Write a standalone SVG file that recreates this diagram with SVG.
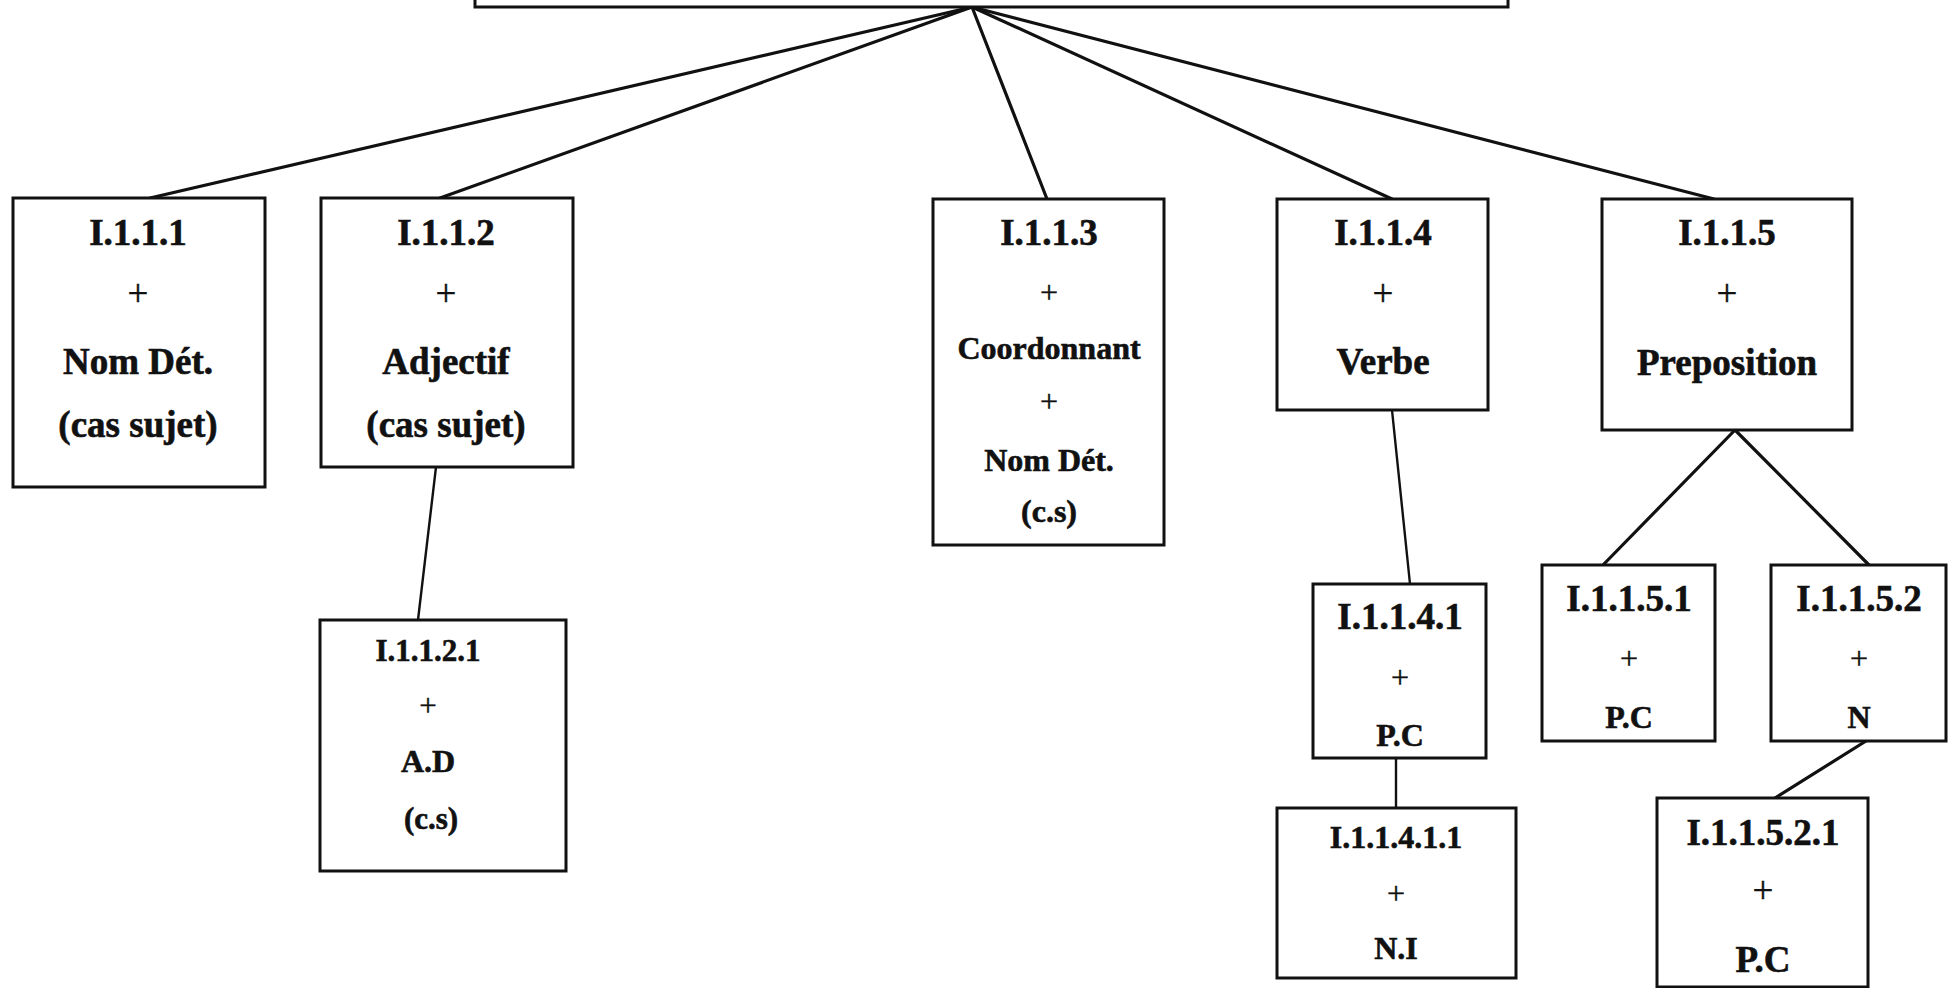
<svg xmlns="http://www.w3.org/2000/svg" width="1948" height="988" viewBox="0 0 1948 988">
  <style>
    .box { fill: #ffffff; stroke: #111111; stroke-width: 3; }
    .link { stroke: #111111; stroke-width: 3.2; fill: none; stroke-linecap: round; }
    .thin { stroke-width: 2.4; }
    text { font-family: "Liberation Serif", "Times New Roman", serif; fill: #111111; text-anchor: middle; }
    .b { font-weight: bold; stroke: #111111; stroke-width: 0.6; }
    .p { font-weight: normal; stroke: #111111; stroke-width: 0.4; }
    .l { font-size: 37px; }
    .m { font-size: 32px; }
    .s { font-size: 31px; }
  </style>
  <rect width="1948" height="988" fill="#ffffff"/>

  <!-- tree edges -->
  <g id="connectors">
    <line class="link" x1="972" y1="7" x2="150" y2="198"/>
    <line class="link" x1="972" y1="7" x2="440" y2="198"/>
    <line class="link" x1="972" y1="7" x2="1047" y2="199"/>
    <line class="link" x1="972" y1="7" x2="1392" y2="199"/>
    <line class="link" x1="972" y1="7" x2="1714" y2="199"/>
    <line class="link thin" x1="436" y1="467" x2="418" y2="620"/>
    <line class="link thin" x1="1392" y1="410" x2="1410" y2="584"/>
    <line class="link thin" x1="1396" y1="758" x2="1396" y2="808"/>
    <line class="link" x1="1735" y1="430" x2="1603" y2="565"/>
    <line class="link" x1="1735" y1="430" x2="1869" y2="565"/>
    <line class="link" x1="1866" y1="741" x2="1775" y2="798"/>
  </g>

  <!-- root box, cut by the top edge -->
  <g id="root">
    <rect class="box" x="475" y="-20" width="1033" height="27"/>
  </g>

  <g id="n1111">
    <rect class="box" x="13" y="198" width="252" height="289"/>
    <text class="b l" x="138" y="245">I.1.1.1</text>
    <text class="p l" x="138" y="306">+</text>
    <text class="b l" x="138" y="374">Nom Dét.</text>
    <text class="b l" x="138" y="437">(cas sujet)</text>
  </g>

  <g id="n1112">
    <rect class="box" x="321" y="198" width="252" height="269"/>
    <text class="b l" x="446" y="245">I.1.1.2</text>
    <text class="p l" x="446" y="306">+</text>
    <text class="b l" x="446" y="374">Adjectif</text>
    <text class="b l" x="446" y="437">(cas sujet)</text>
  </g>

  <g id="n1113">
    <rect class="box" x="933" y="199" width="231" height="346"/>
    <text class="b l" x="1049" y="245">I.1.1.3</text>
    <text class="p m" x="1049" y="303">+</text>
    <text class="b m" x="1049" y="359">Coordonnant</text>
    <text class="p m" x="1049" y="412">+</text>
    <text class="b m" x="1049" y="471">Nom Dét.</text>
    <text class="b m" x="1049" y="522">(c.s)</text>
  </g>

  <g id="n1114">
    <rect class="box" x="1277" y="199" width="211" height="211"/>
    <text class="b l" x="1383" y="245">I.1.1.4</text>
    <text class="p l" x="1383" y="306">+</text>
    <text class="b l" x="1383" y="374">Verbe</text>
  </g>

  <g id="n1115">
    <rect class="box" x="1602" y="199" width="250" height="231"/>
    <text class="b l" x="1727" y="245">I.1.1.5</text>
    <text class="p l" x="1727" y="306">+</text>
    <text class="b l" x="1727" y="375">Preposition</text>
  </g>

  <g id="n11121">
    <rect class="box" x="320" y="620" width="246" height="251"/>
    <text class="b s" x="428" y="661">I.1.1.2.1</text>
    <text class="p s" x="428" y="716">+</text>
    <text class="b m" x="428" y="772">A.D</text>
    <text class="b s" x="431" y="829">(c.s)</text>
  </g>

  <g id="n11141">
    <rect class="box" x="1313" y="584" width="173" height="174"/>
    <text class="b l" x="1400" y="629">I.1.1.4.1</text>
    <text class="p m" x="1400" y="688">+</text>
    <text class="b m" x="1400" y="746">P.C</text>
  </g>

  <g id="n111411">
    <rect class="box" x="1277" y="808" width="239" height="170"/>
    <text class="b m" x="1396" y="848">I.1.1.4.1.1</text>
    <text class="p m" x="1396" y="904">+</text>
    <text class="b m" x="1396" y="959">N.I</text>
  </g>

  <g id="n11151">
    <rect class="box" x="1542" y="565" width="173" height="176"/>
    <text class="b l" x="1629" y="611">I.1.1.5.1</text>
    <text class="p m" x="1629" y="669">+</text>
    <text class="b m" x="1629" y="728">P.C</text>
  </g>

  <g id="n11152">
    <rect class="box" x="1771" y="565" width="175" height="176"/>
    <text class="b l" x="1859" y="611">I.1.1.5.2</text>
    <text class="p m" x="1859" y="669">+</text>
    <text class="b m" x="1859" y="728">N</text>
  </g>

  <g id="n111521">
    <rect class="box" x="1657" y="798" width="211" height="189"/>
    <text class="b l" x="1763" y="845">I.1.1.5.2.1</text>
    <text class="p l" x="1763" y="903">+</text>
    <text class="b l" x="1763" y="972">P.C</text>
  </g>
</svg>
